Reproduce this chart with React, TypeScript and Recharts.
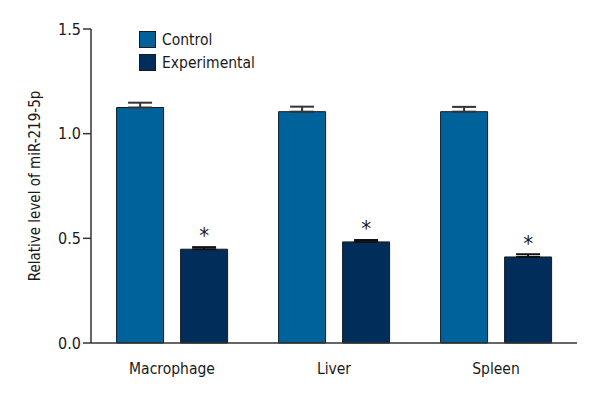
import React from 'react';
import { BarChart, Bar, XAxis, YAxis, ErrorBar, Legend, LabelList } from 'recharts';

const categories = ['Macrophage', 'Liver', 'Spleen'];
const controlValues = [1.125, 1.105, 1.105];
const controlErrors = [0.023, 0.024, 0.023];
const experimentalValues = [0.448, 0.483, 0.411];
const experimentalErrors = [0.01, 0.009, 0.013];
const significance = ['*', '*', '*'];
const yTicks = [0, 0.5, 1.0, 1.5];

const data = categories.map((c, i) => ({
  name: c,
  control: controlValues[i],
  controlErr: [0, controlErrors[i]],
  experimental: experimentalValues[i],
  experimentalErr: [0, experimentalErrors[i]],
  sig: significance[i],
}));

const FONT = '"DejaVu Sans Condensed", "Liberation Sans Narrow", "Open Sans", sans-serif';
const CONTROL = '#00629b';
const EXPER = '#002d5a';
const AXIS = '#333333';

const LegendContent = (props: any) => {
  const { payload } = props;
  return (
    <div style={{ fontFamily: FONT, fontSize: 15.5, color: '#1a1a1a' }}>
      {payload.map((p: any) => (
        <div key={p.value} style={{ display: 'flex', alignItems: 'center', height: 23 }}>
          <span
            style={{
              display: 'inline-block',
              width: 17,
              height: 17,
              background: p.color,
              border: '1px solid #1a1a1a',
              boxSizing: 'border-box',
              marginRight: 6,
            }}
          />
          <span>{p.value}</span>
        </div>
      ))}
    </div>
  );
};

export default function App() {
  return (
    <div style={{ position: 'absolute', left: 0, top: 0, background: '#fff' }}>
      <BarChart
        width={600}
        height={400}
        data={data}
        margin={{ top: 29, right: 23, bottom: 27, left: 0 }}
        barCategoryGap="15.8%"
        barGap={17}
      >
        <XAxis
          dataKey="name"
          height={30}
          axisLine={{ stroke: AXIS, strokeWidth: 1.5 }}
          tickLine={false}
          tick={{ fill: '#1a1a1a', fontSize: 15.5, fontFamily: FONT }}
          tickMargin={14}
        />
        <YAxis
          domain={[0, 1.5]}
          ticks={yTicks}
          width={91}
          tickFormatter={(v: number) => v.toFixed(1)}
          axisLine={{ stroke: AXIS, strokeWidth: 1.5 }}
          tickLine={{ stroke: AXIS, strokeWidth: 1.5 }}
          tickSize={8}
          tick={{ fill: '#1a1a1a', fontSize: 16, fontFamily: FONT }}
          label={{
            value: 'Relative level of miR-219-5p',
            angle: -90,
            position: 'insideLeft',
            offset: 35,
            style: { textAnchor: 'middle', fontFamily: FONT, fontSize: 15, fill: '#1a1a1a' },
          }}
        />
        <Legend
          layout="vertical"
          verticalAlign="middle"
          align="center"
          wrapperStyle={{ left: 139, top: 28, width: 'auto', height: 'auto' }}
          content={<LegendContent />}
        />
        <Bar
          dataKey="control"
          name="Control"
          fill={CONTROL}
          stroke="#1a1a1a"
          strokeWidth={1}
          isAnimationActive={false}
        >
          <ErrorBar dataKey="controlErr" width={12} stroke="#333" strokeWidth={2} direction="y" />
        </Bar>
        <Bar
          dataKey="experimental"
          name="Experimental"
          fill={EXPER}
          stroke="#1a1a1a"
          strokeWidth={1}
          isAnimationActive={false}
        >
          <ErrorBar dataKey="experimentalErr" width={12} stroke="#111" strokeWidth={2} direction="y" />
          <LabelList
            dataKey="sig"
            position="top"
            offset={6}
            style={{ fontFamily: FONT, fontSize: 22, fill: '#1a1a1a' }}
          />
        </Bar>
      </BarChart>
    </div>
  );
}
